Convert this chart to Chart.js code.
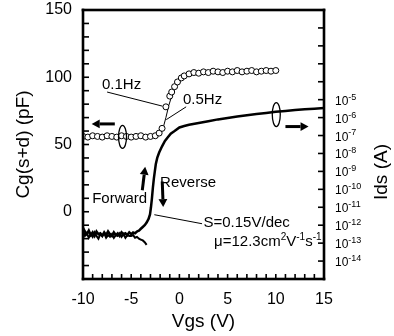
<!DOCTYPE html>
<html>
<head>
<meta charset="utf-8">
<script src="https://cdn.jsdelivr.net/npm/chart.js@4.4.1/dist/chart.umd.min.js"></script>
<style>
html,body{margin:0;padding:0;background:#fff;}
</style>
</head>
<body>
<canvas id="c" width="394" height="336"></canvas>
<script>
// ---- Tick labels ----
const xTickLabels = [-10, -5, 0, 5, 10, 15];
const capTickLabels = [0, 50, 100, 150];
const idsDecadeLabels = [-5, -6, -7, -8, -9, -10, -11, -12, -13, -14];

// ---- Gate capacitance Cg(s+d) (pF) ----
const vgsCap = [-10,-9.5,-9,-8.5,-8,-7.5,-7,-6.5,-6,-5.5,-5,-4.5,-4,-3.5,-3,-2.5,
  -2.1,-1.8,-1.4,-1.0,-0.8,-0.5,-0.2,0.2,0.5,
  1,1.5,2,2.5,3,3.5,4,4.5,5,5.5,6,6.5,7,7.5,8,8.5,9,9.5,10];
const cap01Hz = [56,55.5,56.5,56,55.5,56.5,56,55.5,56.5,56,55.5,56,56.5,55.5,56,56.5,
  58.5,62,78,86,89,93,96.5,99.5,101,
  102.5,103.5,103,104,103.5,104.5,104,103.5,104.5,104,105,104,104.5,105,104,104.5,105,104.5,105];
const vgs05 = [-10,-8,-6,-4,-3,-2.5,-2,-1.7,-1.4,-1.1,-0.8,-0.5,-0.2,0.2,0.6,1,2,3,4,6,8,10];
const cap05Hz = [55.5,55.5,55.5,55.5,55.5,56,58,62,70,79,86,91,95,98.5,100.5,101.5,102.5,103,103.5,104,104,104.5];

// ---- Drain current Ids, as log10(A) ----
const vgsFwd = [-10,-9.8,-9.6,-9.4,-9.2,-9,-8.8,-8.6,-8.4,-8.2,-8,-7.8,-7.6,-7.4,-7.2,-7,-6.8,-6.6,-6.4,-6.2,
  -6,-5.8,-5.6,-5.4,-5.2,-5,-4.8,-4.6,-4.4,-4.2,-4,-3.8,-3.6,-3.4];
const logIdsFwd = [-12.3,-12.6,-12.45,-12.7,-12.5,-12.65,-12.4,-12.6,-12.75,-12.5,-12.6,-12.45,-12.7,-12.55,-12.65,
  -12.5,-12.7,-12.55,-12.6,-12.45,-12.65,-12.5,-12.7,-12.55,-12.6,
  -12.6,-12.55,-12.7,-12.65,-12.75,-12.8,-12.85,-12.95,-13.1];
const vgsRev = [-10,-9.8,-9.6,-9.4,-9.2,-9,-8.8,-8.6,-8.4,-8.2,-8,-7.8,-7.6,-7.4,-7.2,-7,-6.8,-6.6,-6.4,-6.2,
  -6,-5.8,-5.6,-5.4,-5.2,-5,-4.8,-4.6,-4.4,-4.2,-4,-3.8,-3.6,
  -3.4,-3.2,-3.05,-2.95,-2.85,-2.75,-2.65,-2.55,-2.45,-2.3,-2.1,-1.8,-1.5,-1.2,-0.9,-0.5,
  0,0.5,1,2,3,4,5,6,7,8,9,10,11,12,13,14,15];
const logIdsRev = [-12.15,-12.35,-12.5,-12.3,-12.55,-12.4,-12.6,-12.35,-12.5,-12.45,-12.6,-12.4,-12.55,-12.35,-12.5,
  -12.6,-12.4,-12.55,-12.45,-12.6,-12.4,-12.5,-12.45,-12.55,-12.4,
  -12.5,-12.4,-12.45,-12.35,-12.3,-12.2,-12.1,-12.0,
  -11.85,-11.65,-11.4,-11.0,-10.5,-9.9,-9.4,-9.0,-8.6,-8.25,-7.95,-7.6,-7.3,-7.1,-6.9,-6.75,
  -6.55,-6.47,-6.4,-6.3,-6.2,-6.1,-6.02,-5.94,-5.87,-5.8,-5.74,-5.68,-5.63,-5.58,-5.54,-5.5,-5.46];

const FONT = "'Liberation Sans', Arial, sans-serif";

function pts(xs, ys) { return xs.map((v, i) => ({x: v, y: ys[i]})); }
function ptsLog(xs, ls) { return xs.map((v, i) => ({x: v, y: Math.pow(10, ls[i])})); }

function drawArrow(ctx, x1, y1, x2, y2, w, head) {
  const ang = Math.atan2(y2 - y1, x2 - x1);
  const bx = x2 - head * Math.cos(ang), by = y2 - head * Math.sin(ang);
  ctx.lineWidth = w;
  ctx.beginPath(); ctx.moveTo(x1, y1); ctx.lineTo(bx, by); ctx.stroke();
  const hw = head * 0.55;
  ctx.beginPath();
  ctx.moveTo(x2, y2);
  ctx.lineTo(bx + hw * Math.sin(ang), by - hw * Math.cos(ang));
  ctx.lineTo(bx - hw * Math.sin(ang), by + hw * Math.cos(ang));
  ctx.closePath(); ctx.fill();
}
function richText(ctx, x, y, parts, size, supSize) {
  let cx = x;
  ctx.textBaseline = 'alphabetic'; ctx.textAlign = 'left';
  parts.forEach(p => {
    ctx.font = (p[1] ? supSize : size) + "px " + FONT;
    ctx.fillText(p[0], cx, p[1] ? y - size * 0.42 : y);
    cx += ctx.measureText(p[0]).width;
  });
}
function seg(ctx, x1, y1, x2, y2) { ctx.moveTo(x1, y1); ctx.lineTo(x2, y2); }

const overlay = {
  id: 'overlay',
  afterDraw(chart) {
    const ctx = chart.ctx, a = chart.chartArea;
    const x = chart.scales.x, y = chart.scales.y, y2 = chart.scales.y2;
    const X = v => x.getPixelForValue(v), Y = v => y.getPixelForValue(v);
    const Y2 = v => y2.getPixelForValue(Math.pow(10, v));
    ctx.save();
    ctx.fillStyle = '#000';
    ctx.strokeStyle = '#000';
    // frame
    const w = 2.6, h = w / 2;
    ctx.fillRect(a.left - h, a.top - h, w, a.bottom - a.top + w);
    ctx.fillRect(a.right - h, a.top - h, w, a.bottom - a.top + w);
    ctx.fillRect(a.left - h, a.top - h, a.right - a.left + w, w);
    ctx.fillRect(a.left - h, a.bottom - h, a.right - a.left + w, w);
    // inward tick marks
    for (let v = -50; v <= 150; v += 10) ctx.fillRect(a.left, Y(v) - 0.8, 6, 1.6);
    for (let e = -15; e <= 0; e++) ctx.fillRect(a.right - 6, Y2(e) - 0.8, 6, 1.6);
    for (let v = -10; v <= 15; v += 1) ctx.fillRect(X(v) - 0.8, a.bottom - 5, 1.6, 5);

    // right axis tick labels 10^n
    idsDecadeLabels.forEach(e => {
      richText(ctx, a.right + 11, Y2(e) + 5, [["10", 0], [String(e), 1]], 12, 9);
    });
    // right axis title (reads bottom to top)
    ctx.save();
    ctx.translate(382, 172);
    ctx.rotate(-Math.PI / 2);
    ctx.font = "19px " + FONT; ctx.textAlign = 'center'; ctx.textBaseline = 'middle';
    ctx.fillText("Ids (A)", 0, 0);
    ctx.restore();

    // ellipses
    ctx.lineWidth = 1.3;
    ctx.beginPath(); ctx.ellipse(X(-5.9), Y(55.7), 4, 11.5, 0, 0, Math.PI * 2); ctx.stroke();
    ctx.beginPath(); ctx.ellipse(X(10.05), Y2(-5.83), 4, 12, 0, 0, Math.PI * 2); ctx.stroke();
    // arrows
    drawArrow(ctx, X(-6.7), Y(65.3), X(-9.1), Y(65.3), 3, 8);
    drawArrow(ctx, X(11.0), Y2(-6.5), X(13.4), Y2(-6.5), 3, 8);
    drawArrow(ctx, X(-3.85), Y(16), X(-3.55), Y(33.5), 3, 8);
    drawArrow(ctx, X(-1.78), Y(22.5), X(-1.68), Y(3.5), 3, 8);
    // pointer lines
    ctx.lineWidth = 1;
    ctx.beginPath();
    seg(ctx, X(-7.5), Y(89), X(-1.75), Y(78.5));
    seg(ctx, X(0.7), Y(78), X(-1.36), Y(68.5));
    seg(ctx, X(-2.6), Y(-2.2), X(2.35), Y(-8.9));
    ctx.stroke();
    // labels
    ctx.font = "15px " + FONT; ctx.textBaseline = 'middle';
    ctx.textAlign = 'center';
    ctx.fillText("0.1Hz", X(-6.0), Y(94.5));
    ctx.fillText("0.5Hz", X(2.4), Y(83.5));
    ctx.fillText("Forward", X(-6.2), Y(9.6));
    ctx.textAlign = 'left';
    ctx.fillText("Reverse", X(-2.0), Y(21.5));
    ctx.fillText("S=0.15V/dec", X(2.5), Y(-8.2));
    richText(ctx, X(3.6), Y(-22) + 5, [["\u03bc=12.3cm", 0], ["2", 1], ["V", 0], ["-1", 1], ["s", 0], ["-1", 1]], 15, 10);
    ctx.restore();
  }
};

new Chart(document.getElementById('c'), {
  type: 'scatter',
  data: {
    datasets: [
      {label: '0.1Hz', data: pts(vgsCap, cap01Hz), yAxisID: 'y', showLine: false,
       pointStyle: 'circle', pointRadius: 3, pointBorderWidth: 1, pointBorderColor: '#000',
       pointBackgroundColor: '#fff', order: 0},
      {label: '0.5Hz', data: pts(vgs05, cap05Hz), yAxisID: 'y', showLine: true,
       borderColor: '#000', borderWidth: 1, pointRadius: 0, order: 1},
      {label: 'Ids forward', data: ptsLog(vgsFwd, logIdsFwd), yAxisID: 'y2', showLine: true,
       borderColor: '#000', borderWidth: 2, pointRadius: 0, order: 2},
      {label: 'Ids reverse', data: ptsLog(vgsRev, logIdsRev), yAxisID: 'y2', showLine: true,
       borderColor: '#000', borderWidth: 2.5, pointRadius: 0, order: 3}
    ]
  },
  options: {
    responsive: false, animation: false,
    layout: {padding: {top: 10, left: 0, right: 0, bottom: 0}},
    plugins: {legend: {display: false}, tooltip: {enabled: false}},
    scales: {
      x: {
        type: 'linear', position: 'bottom', min: -10, max: 15,
        afterFit(s) { s.height = 57; s.paddingLeft = 0; s.paddingRight = 0; },
        afterBuildTicks(s) { s.ticks = xTickLabels.map(v => ({value: v})); },
        grid: {display: false, drawTicks: false},
        border: {display: false},
        ticks: {color: '#000', padding: 11, font: {family: FONT, size: 16}, maxRotation: 0,
                callback: v => String(v)},
        title: {display: true, text: 'Vgs (V)', color: '#000', font: {family: FONT, size: 19}, padding: {top: 0, bottom: 3}}
      },
      y: {
        type: 'linear', position: 'left', min: -50, max: 150,
        afterFit(s) { s.width = 83; s.paddingTop = 0; s.paddingBottom = 0; },
        afterBuildTicks(s) { s.ticks = capTickLabels.map(v => ({value: v})); },
        grid: {display: false, drawTicks: false},
        border: {display: false},
        ticks: {color: '#000', padding: 11, font: {family: FONT, size: 16}, callback: v => String(v)},
        title: {display: true, text: 'Cg(s+d) (pF)', color: '#000', font: {family: FONT, size: 19}, padding: {top: 12, bottom: 0}}
      },
      y2: {
        type: 'logarithmic', position: 'right', min: 1e-15, max: 1,
        afterFit(s) { s.width = 70; s.paddingTop = 0; s.paddingBottom = 0; },
        grid: {display: false, drawTicks: false},
        border: {display: false},
        ticks: {display: false}
      }
    }
  },
  plugins: [overlay]
});
</script>
</body>
</html>
